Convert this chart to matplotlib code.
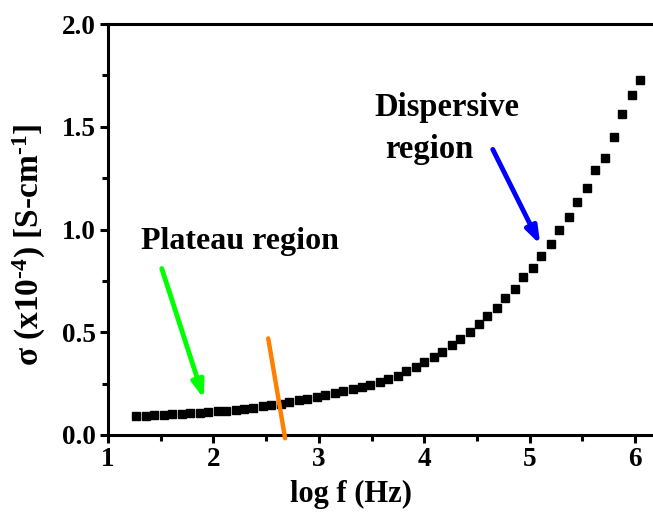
import matplotlib
matplotlib.use('Agg')
import matplotlib.pyplot as plt
from matplotlib.ticker import MultipleLocator

plt.rcParams['font.family'] = ['Liberation Serif', 'DejaVu Serif']
plt.rcParams['font.weight'] = 'bold'
plt.rcParams['mathtext.fontset'] = 'custom'
plt.rcParams['mathtext.rm'] = 'Liberation Serif:bold'
plt.rcParams['mathtext.it'] = 'Liberation Serif:bold'
plt.rcParams['mathtext.bf'] = 'Liberation Serif:bold'
plt.rcParams['axes.unicode_minus'] = False

# log f (Hz)
logf = [1.27, 1.36, 1.44, 1.53, 1.61, 1.70, 1.78, 1.87, 1.95, 2.04,
        2.12, 2.21, 2.29, 2.38, 2.47, 2.55, 2.64, 2.72, 2.81, 2.89,
        2.98, 3.06, 3.15, 3.23, 3.32, 3.41, 3.49, 3.58, 3.66, 3.75,
        3.83, 3.92, 4.00, 4.09, 4.17, 4.26, 4.34, 4.43, 4.52, 4.60,
        4.69, 4.77, 4.86, 4.94, 5.03, 5.11, 5.20, 5.28, 5.37, 5.45,
        5.54, 5.62, 5.71, 5.80, 5.88, 5.97, 6.05]
# sigma (x1e-4 S/cm)
sigma = [0.091, 0.093, 0.095, 0.098, 0.100, 0.103, 0.106, 0.109, 0.112, 0.115,
         0.119, 0.123, 0.128, 0.133, 0.139, 0.146, 0.153, 0.161, 0.169, 0.177,
         0.186, 0.195, 0.204, 0.213, 0.223, 0.233, 0.245, 0.257, 0.272, 0.288,
         0.309, 0.330, 0.355, 0.379, 0.406, 0.438, 0.465, 0.501, 0.538, 0.580,
         0.620, 0.667, 0.711, 0.769, 0.813, 0.872, 0.928, 0.999, 1.062, 1.135,
         1.203, 1.289, 1.348, 1.450, 1.561, 1.654, 1.728]

fig = plt.figure(figsize=(6.53, 5.23), dpi=100)
ax = fig.add_axes([0.1654, 0.1683, 0.8346, 0.7857])

ax.plot(logf, sigma, 's', color='black', ms=6.3, mec='black', clip_on=False, zorder=3)

ax.set_xlim(1, 6.17)
ax.set_ylim(0, 2.0)
ax.xaxis.set_major_locator(MultipleLocator(1))
ax.xaxis.set_minor_locator(MultipleLocator(0.5))
ax.yaxis.set_major_locator(MultipleLocator(0.5))
ax.yaxis.set_minor_locator(MultipleLocator(0.25))
ax.yaxis.set_major_formatter(matplotlib.ticker.FormatStrFormatter('%.1f'))

for s in ['left', 'bottom', 'top']:
    ax.spines[s].set_linewidth(2.2)
ax.spines['right'].set_visible(False)
ax.tick_params(which='major', direction='out', length=6, width=2.2, labelsize=19.5, pad=3)
ax.tick_params(which='minor', direction='out', length=4, width=2.2)
ax.tick_params(top=False, right=False)

ax.set_xlabel('log f (Hz)', fontsize=22, fontweight='bold')
ax.xaxis.set_label_coords(0.446, -0.11)
ax.set_ylabel(r'σ (x10$^{\text{-4}}$) [S-cm$^{\text{-1}}$]', fontsize=24, fontweight='bold')
ax.yaxis.set_label_coords(-0.11, 0.462)

# annotations
ax.text(1.31, 0.905, 'Plateau region', fontsize=23, fontweight='bold', va='baseline')
ax.text(3.53, 1.553, 'Dispersive', fontsize=23.5, fontweight='bold', va='baseline')
ax.text(3.63, 1.35, 'region', fontsize=23.5, fontweight='bold', va='baseline')

ax.annotate('', xy=(1.91, 0.176), xytext=(1.51, 0.81),
            arrowprops=dict(arrowstyle='-|>,head_length=1.0,head_width=0.35',
                            color='#00ff00', lw=3.5, shrinkA=0, shrinkB=0))
ax.annotate('', xy=(5.10, 0.927), xytext=(4.65, 1.39),
            arrowprops=dict(arrowstyle='-|>,head_length=1.0,head_width=0.35',
                            color='#0000ff', lw=3.5, shrinkA=0, shrinkB=0))
ax.plot([2.52, 2.68], [0.47, -0.016], color='#ff7f00', lw=3.2, clip_on=False,
        solid_capstyle='round', zorder=4)

fig.savefig('out.png', dpi=100)
